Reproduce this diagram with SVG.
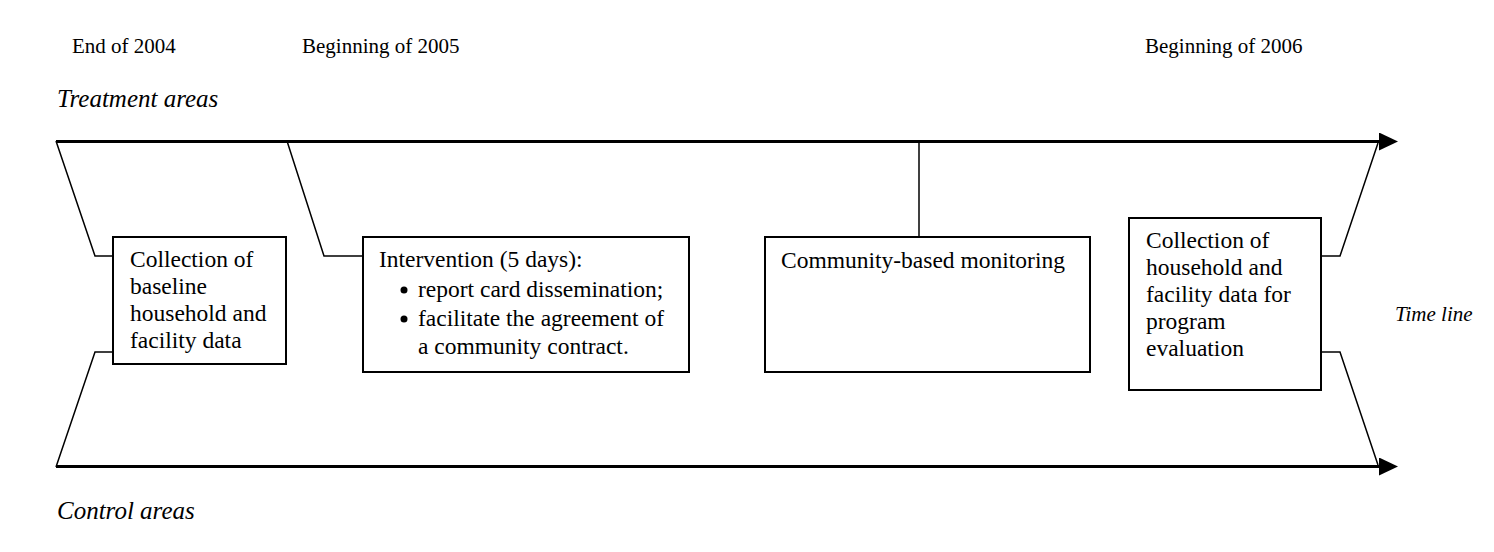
<svg xmlns="http://www.w3.org/2000/svg" width="1494" height="552" viewBox="0 0 1494 552">
<style>
text{font-family:"Liberation Serif","Times New Roman",serif;fill:#000}
.hdr{font-size:21px}
.it{font-size:25px;font-style:italic}
.bx{font-size:23.5px}
.box{fill:#fff;stroke:#000;stroke-width:2}
.tl{stroke:#000;stroke-width:3;fill:none}
.cn{stroke:#000;stroke-width:1.5;fill:none}
</style>
<defs>
<marker id="ah" markerWidth="20" markerHeight="18" refX="0" refY="9" orient="auto" markerUnits="userSpaceOnUse">
<path d="M0,0 L19,9 L0,18 Z" fill="#000"/>
</marker>
</defs>
<g id="labels">
<text class="hdr" x="72" y="53">End of 2004</text>
<text class="hdr" x="302" y="53">Beginning of 2005</text>
<text class="hdr" x="1145" y="53">Beginning of 2006</text>
<text class="it" x="57" y="107">Treatment areas</text>
<text class="it" x="57" y="519">Control areas</text>
<text class="it" x="1395" y="321" style="font-size:21px">Time line</text>
</g>
<g id="connectors">
<line class="tl" x1="56" y1="141.5" x2="1379" y2="141.5" marker-end="url(#ah)"/>
<line class="tl" x1="56" y1="466.5" x2="1379" y2="466.5" marker-end="url(#ah)"/>
<polyline class="cn" points="56,141 95,256 113,256"/>
<polyline class="cn" points="56,467 95,352 113,352"/>
<polyline class="cn" points="287,141 324,256 363,256"/>
<line class="cn" x1="919" y1="141" x2="919" y2="237"/>
<polyline class="cn" points="1321,256 1340,256 1378,143"/>
<polyline class="cn" points="1321,352 1340,352 1378,465"/>
</g>
<g id="node-baseline">
<rect class="box" x="113" y="237" width="173" height="127"/>
<text class="bx" x="130" y="267">Collection of</text>
<text class="bx" x="130" y="294">baseline</text>
<text class="bx" x="130" y="321">household and</text>
<text class="bx" x="130" y="348">facility data</text>
</g>
<g id="node-intervention">
<rect class="box" x="363" y="237" width="326" height="135"/>
<text class="bx" x="379" y="267">Intervention (5 days):</text>
<circle cx="404" cy="290" r="3.5"/>
<text class="bx" x="418" y="297">report card dissemination;</text>
<circle cx="404" cy="319" r="3.5"/>
<text class="bx" x="418" y="326">facilitate the agreement of</text>
<text class="bx" x="418" y="354">a community contract.</text>
</g>
<g id="node-monitoring">
<rect class="box" x="765" y="237" width="325" height="135"/>
<text class="bx" x="781" y="268">Community-based monitoring</text>
</g>
<g id="node-evaluation">
<rect class="box" x="1129" y="218" width="192" height="172"/>
<text class="bx" x="1146" y="248">Collection of</text>
<text class="bx" x="1146" y="275">household and</text>
<text class="bx" x="1146" y="302">facility data for</text>
<text class="bx" x="1146" y="329">program</text>
<text class="bx" x="1146" y="356">evaluation</text>
</g>
</svg>
